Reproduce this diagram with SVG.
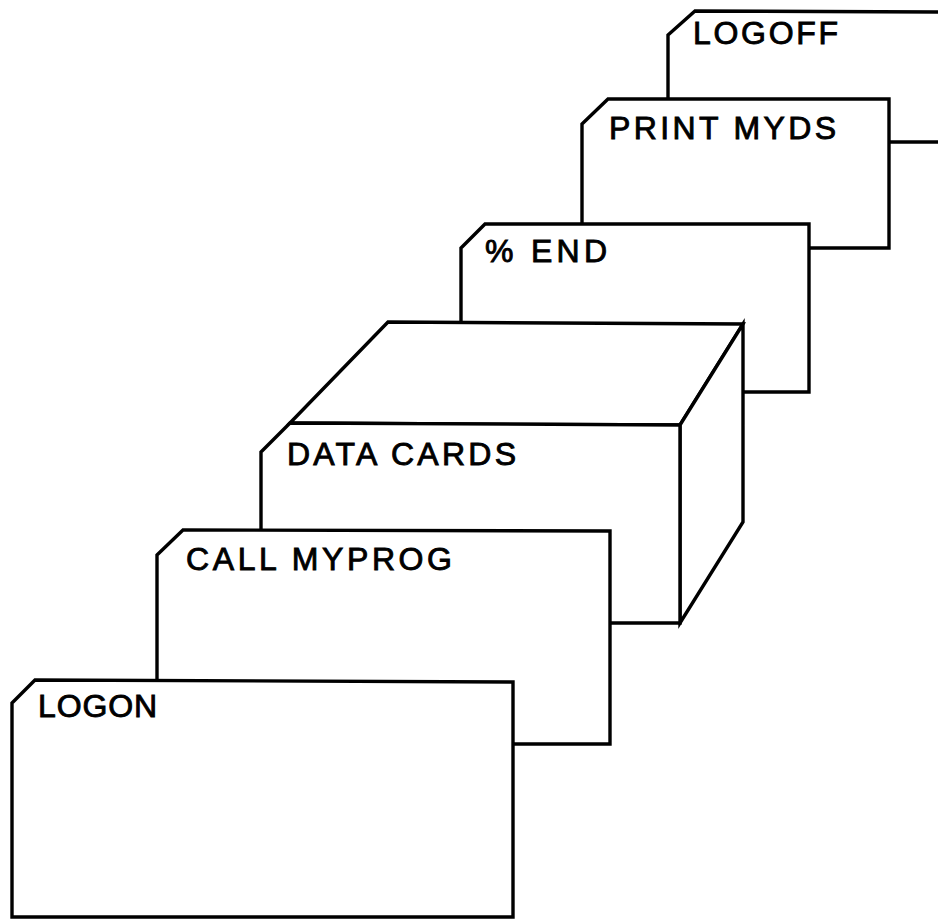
<svg xmlns="http://www.w3.org/2000/svg" width="938" height="920" viewBox="0 0 938 920">
<style>
.card{fill:#fff;stroke:#000;stroke-width:3.4;stroke-linejoin:miter}
.lbl{font-family:"Liberation Sans",Arial,sans-serif;font-size:32px;fill:#000;stroke:#000;stroke-width:0.9;letter-spacing:1px}
</style>
<rect width="938" height="920" fill="#fff"/>
<g id="logoff">
<path class="card" d="M668,142 L668,35 L695,11 L950,12 L950,142 Z"/>
<text class="lbl" x="693" y="44" font-size="29" textLength="146" lengthAdjust="spacing">LOGOFF</text>
</g>
<g id="print-myds">
<path class="card" d="M582,248 L582,124 L608,99 L889,99 L889,248 Z"/>
<text class="lbl" x="609" y="139" textLength="228" lengthAdjust="spacing">PRINT MYDS</text>
</g>
<g id="end">
<path class="card" d="M461,392 L461,248 L485,224 L809,224 L809,392 Z"/>
<text class="lbl" x="485" y="262" textLength="123" lengthAdjust="spacing">% END</text>
</g>
<g id="data-cards">
<path class="card" d="M290,423 L388,322 L743,324 L680,425 Z"/>
<path class="card" d="M680,425 L743,324 L743,522 L680,623 Z"/>
<path class="card" d="M261,623 L261,452 L290,423 L680,425 L680,623 Z"/>
<text class="lbl" x="287" y="465" textLength="230" lengthAdjust="spacing">DATA CARDS</text>
</g>
<g id="call-myprog">
<path class="card" d="M157,744 L157,555 L183,530 L610,531 L610,744 Z"/>
<text class="lbl" x="186" y="570" textLength="267" lengthAdjust="spacing">CALL MYPROG</text>
</g>
<g id="logon">
<path class="card" d="M12,917 L12,703 L35,680 L513,682 L513,917 Z"/>
<text class="lbl" x="38" y="717" textLength="120" lengthAdjust="spacing">LOGON</text>
</g>
<g id="connectors"/>
</svg>
